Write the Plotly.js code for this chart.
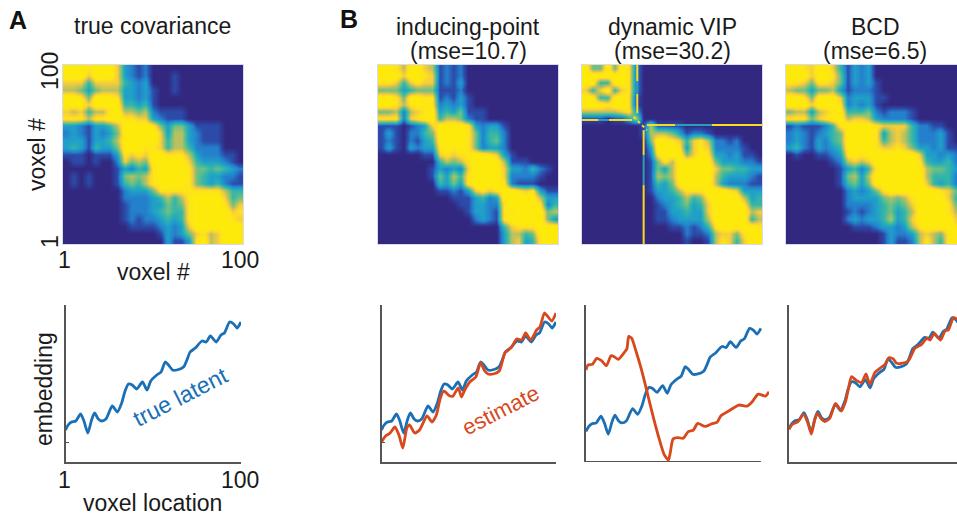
<!DOCTYPE html>
<html><head><meta charset="utf-8">
<script src="https://cdn.plot.ly/plotly-3.0.1.min.js"></script>
<style>html,body{margin:0;padding:0;background:#fff;overflow:hidden}</style>
</head><body><div id="chart" style="width:957px;height:515px"></div>
<script>
// Heatmap levels, 0 (navy) .. 9 (yellow); rows run top to bottom.
const covTrue = [
"9998999732120000000000000","9997999732120001000000000","7774777743230001000000000","6653566633231001000000000",
"9985999833231000000000000","9997999944341000000000000","7674668966562111100000000","8886889988773211100000000",
"3321334699998535531111000","2321323599999736632111000","3331334699999746632111000","3431433599988746642222000",
"1110111387879988863222110","0110100275659999974333210","0000000132438999985545432","0101000156568999985433221",
"0101000145468999985434211","0000000023335888888888644","0000000022223464689999745","0000000012223354589999857",
"0000000012223454489999978","0000000012122343489999987","0000000001111232379999999","0000000000000132357867999",
"0000000000000031138967999"];
const covInducing = [
"9986997612120000000000000","9997998712120000000000000","8874787712130000000000000","5553455511120000000000000",
"9985998812131000000000000","9986898823231000000000000","5562678934351110000000000","8882789946652110000000000",
"1110123799998323310000000","1310224599998524420000000","1210213499998524520000000","1310323389898523320000000",
"0000001178788998731000000","0000000046568999961110000","0000000132327999973324210","0000000153648999972222100",
"0000000043538999982111000","0000000011213787899878311","0000000000111342399999633","0000000000011332289999824",
"0000000000001332188999956","0000000000000232189999953","0000000000000000047888999","0000000000000000036645999",
"0000000000000000036734898"];
const covVip = [
"9559598200000000000000000","9999998200000000000000000","9944998200000000000000000","7479478200000000000000000",
"9944998100000000000000000","9998998100000000000000000","6666678300000000000000000","1110113600000000000000000",
"0000000016111100000000000","0000000016665312210000000","0000000005998747862212000","0000000003999837872222100",
"0000000002899957983323110","0000000001586999995333221","0000000001536999997554433","0000000001656999996433321",
"0000000001435999996322211","0000000001334688899987333","0000000000233464589999634","0000000000123453479999844",
"0000000000113343379999967","0000000000112333369999946","0000000000001121248999998","0000000000000021126775899",
"0000000000000010016874799"];
const covBcd = [
"9987997413230000000000000","9997998513230000000000000","8875887513231000000000000","6553556312221000000000000",
"9985999723331100000000000","9997999823231000000000000","5663678944452122210000000","8885789967763222210000000",
"1211124899998777742211000","2321234599998367642223100","2321324599998467642223100","3421323499998778753323110",
"0100112389899999997332321","0000001267679999998433421","0000000134248999999655432","0000000156369999999644421",
"0000000145359999999743421","0000000023235899999998753","0000000023333565689999744","0000000022223454579999855",
"0000000012123453469999866","0000000023233463479999977","0000000001112332368999988","0000000000000132236765899",
"0000000000000131126864899"];

// Thin ridge lines in the dynamic VIP estimate (voxel coordinates).
const ridgeYellowX = [31.4,31.4,null,31.4,31.4,null,1,10.2,null,15.7,28.5,null,36.7,52.3,null,72.5,100,null,34.9,34.9,null,34.9,34.9];
const ridgeYellowY = [100,91,null,84,73.3,null,69.6,69.6,null,69.6,69.6,null,66.8,66.8,null,66.8,66.8,null,64,50.2,null,33.6,1];
const ridgeTealX = [31.4,31.4,null,10.2,15.7,null,52.3,72.5,null,34.9,34.9];
const ridgeTealY = [91,84,null,69.6,69.6,null,66.8,66.8,null,50.2,33.6];
const ridgeDiagX = [29.4,36.7];
const ridgeDiagY = [71.4,64];

// Embedding curves
const latentV = [1,2.5,4.4,6.8,9.5,11.4,13.6,15.7,17.4,19.5,21.4,23.8,27.4,30.2,32.7,34.6,36.5,38.7,41.2,44.4,47,49.1,52.5,54.9,57.2,59.1,61.4,63.8,67.6,69.5,71.3,74.2,78,80.4,82.7,86,88.7,90.6,93.6,95.9,97.8,100];
const latentY = [32,37,40,41,48,41,29,42,49,43,41,43,56,50,59,71,78,77,73,80,72,81,87,90,100,97,92,92,95,102,110,114,121,120,126,120,127,129,140,138,134,140];
const inducingV = [1,3.3,5.9,8.6,10.9,13.1,15.4,16.9,19.8,22.6,26.8,29.7,32.1,34.4,36.3,39.7,41.6,44.5,46.4,48.2,51.1,54.5,57.2,59.6,61.5,64.4,67.8,71,74.8,77.7,80.5,82.8,85.6,89,90.9,93.4,95.1,97.6,100];
const inducingY = [20,26,29,35,27,14,34,37,29,32,46,40,47,64,71,66,66,74,65,72,80,85,99,91,88,88,91,109,115,123,122,129,122,132,135,149,146,141,149];
const vipV = [1,2.1,4.6,7.1,9.8,12.6,15.1,17,19.3,22.7,24.2,25.2,26.9,29.4,32.2,35.1,38.3,41.8,45.2,47.7,48.8,50.3,53.2,56,58.9,61.8,64.2,68.4,72.2,75.1,77.4,82.7,87.5,92.2,95.1,98.5,102.7,104.6];
const vipY = [96.3,101.6,102.3,108.6,106.1,100.9,111.3,110.3,107.5,114.8,119,131.6,129.5,115.5,98.1,77.1,52.7,28.3,8,2.1,10.8,24.1,25.5,24.8,31.8,33.5,40.5,37.3,40.1,41.5,48.5,54.5,59.7,58.6,63.2,71.2,69.1,73.6];
const bcdV = [1,2.9,6.1,9.3,11.8,13.7,15.6,17.1,19.4,21.3,24.1,27.4,30.8,33.1,34.6,36.5,38.9,42.2,44.7,46.9,49.8,52.6,55.5,57.9,60.2,62.1,64.9,68.7,72.5,76.3,79.2,81.1,83.5,87.1,89.6,91.5,94.4,96.4];
const bcdY = [31.7,36.6,39.2,46.3,37.5,27.2,40.8,47.2,41.7,39.2,42.4,57,49.5,58.6,69.9,82.8,79.6,77,85.4,75.4,87.1,90.9,94.8,101.3,100,95.8,95.8,98.1,110.4,114.2,120.1,118.4,124.9,118.4,127.2,128.2,140.1,138.8];
// Base line of the dynamic VIP curve panel (voxels 1 to 100).
const axisV = [1,100];
const axisY = [0,0];

const W=957,H=515,FONT='"Liberation Sans", Arial, sans-serif';
const BLUE='#1a6fb6',RED='#d8481b',AXIS='#555555';
const scale=[[0,'#32287f'],[1/9,'#2c4aa8'],[2/9,'#2480cc'],[3/9,'#1fa0c8'],[4/9,'#35b5a8'],[5/9,'#70c080'],[6/9,'#b8c060'],[7/9,'#f6ce38'],[8/9,'#fde516'],[1,'#feea0a']];
const grid=rows=>rows.map(r=>[...r].map(Number));
const layout={width:W,height:H,margin:{l:0,r:0,t:0,b:0},paper_bgcolor:'#fff',plot_bgcolor:'#fff',showlegend:false,annotations:[]};
const data=[];
let n=0;
function axes(x0,x1,y0,y1,xr,yr,xo,yo){
  n++;
  const s=n===1?'':n;
  layout['xaxis'+s]=Object.assign({domain:[x0/W,x1/W],range:xr,anchor:'y'+s,showgrid:false,zeroline:false,showticklabels:false,ticks:''},xo);
  layout['yaxis'+s]=Object.assign({domain:[1-y1/H,1-y0/H],range:yr,anchor:'x'+s,showgrid:false,zeroline:false,showticklabels:false,ticks:''},yo);
  return ['x'+s,'y'+s];
}
function heat(z,x0,x1,xr){
  const frame={showline:true,linecolor:'#d9d9ef',linewidth:1,mirror:true};
  const [xa,ya]=axes(x0,x1,65,244,xr,[1,100],frame,frame);
  data.push({type:'heatmap',z:grid(z),x0:2.98,dx:3.96,y0:98.02,dy:-3.96,zmin:0,zmax:9,zsmooth:'best',colorscale:scale,showscale:false,hoverinfo:'skip',xaxis:xa,yaxis:ya});
  return [xa,ya];
}
function lines(x0,x1,xr,ymax,series,mark,noBase){
  const ax={showline:true,linecolor:AXIS,linewidth:2};
  const yo=mark?Object.assign({ticks:'inside',ticklen:3,tickwidth:1,tickcolor:AXIS,tickvals:[20]},ax):ax;
  const [xa,ya]=axes(x0,x1,305,462,xr,[0,ymax],noBase?{showline:false}:ax,yo);
  if(noBase) data.push({type:'scatter',mode:'lines',x:axisV,y:axisY,cliponaxis:false,hoverinfo:'skip',line:{color:AXIS,width:2},xaxis:xa,yaxis:ya});
  series.forEach(s=>data.push({type:'scatter',mode:'lines',x:s[0],y:s[1],cliponaxis:false,hoverinfo:'skip',
    line:{color:s[2],width:2.8,shape:'spline',smoothing:0.6},xaxis:xa,yaxis:ya}));
}
heat(covTrue,63,243,[1,100]);
heat(covInducing,378,558,[1,100]);
const vip=heat(covVip,582,762,[1,100]);
heat(covBcd,786,957,[1,95]);
[[ridgeYellowX,ridgeYellowY,'#f7dd1e','solid'],[ridgeTealX,ridgeTealY,'#2a9fb4','solid'],[ridgeDiagX,ridgeDiagY,'#f7dd1e','dot']].forEach(r=>
  data.push({type:'scatter',mode:'lines',x:r[0],y:r[1],line:{color:r[2],width:2,dash:r[3]},hoverinfo:'skip',connectgaps:false,xaxis:vip[0],yaxis:vip[1]}));

lines(65.5,241,[1,100],157,[[latentV,latentY,BLUE]],true);
lines(381.5,556,[1,100],157,[[latentV,latentY,BLUE],[inducingV,inducingY,RED]],true);
lines(586,769,[1,104.6],164.5,[[latentV,latentY,BLUE],[vipV,vipY,RED]],false,true);
lines(789,957,[1,96.4],152.4,[[latentV,latentY,BLUE],[bcdV,bcdY,RED]],false);

function label(t,x,y,o){
  layout.annotations.push(Object.assign({text:t,x:x/W,y:1-y/H,xref:'paper',yref:'paper',xanchor:'center',yanchor:'middle',showarrow:false,
    font:{family:FONT,size:23,color:'#1a1a1a'}},o||{}));
}
const bold={font:{family:FONT,size:25,color:'#111'}};
label('<b>A</b>',18,20,bold);
label('<b>B</b>',349,19,bold);
label('true covariance',152,26);
label('inducing-point',468,27);
label('(mse=10.7)',468,51);
label('dynamic VIP',672,27);
label('(mse=30.2)',672,51);
label('BCD',875,27);
label('(mse=6.5)',875,51);
label('1',64,260);
label('100',240,260);
label('voxel #',153,272);
label('100',50,71,{textangle:-90});
label('1',50,242,{textangle:-90});
label('voxel #',37,155,{textangle:-90});
label('embedding',44,389,{textangle:-90});
label('1',64,480);
label('100',240,480);
label('voxel location',152,503);
label('true latent',180,397,{textangle:-27,font:{family:FONT,size:23,color:BLUE}});
label('estimate',500,410,{textangle:-27,font:{family:FONT,size:22,color:RED}});

Plotly.newPlot('chart',data,layout,{staticPlot:true,displayModeBar:false});
</script></body></html>
